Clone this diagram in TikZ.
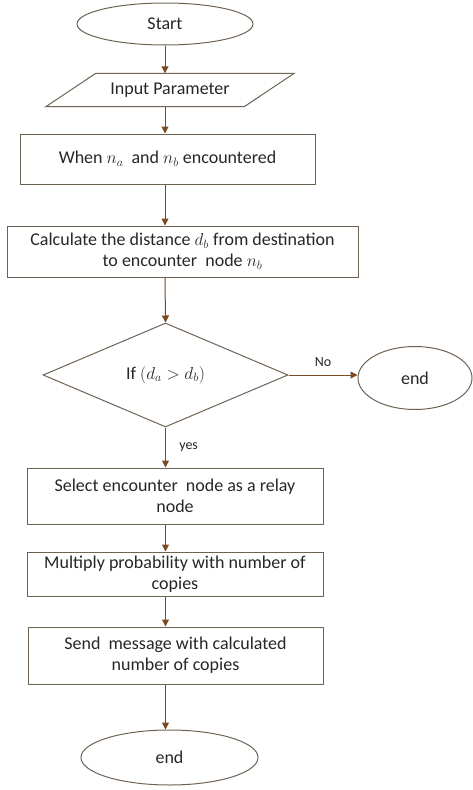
\documentclass[tikz,border=0pt]{standalone}
\usepackage{fontspec}
\setmainfont{Carlito}
\usetikzlibrary{shapes.geometric,arrows.meta}
\definecolor{boxline}{RGB}{110,98,85}
\definecolor{arrowbrown}{RGB}{122,74,34}

\begin{document}
\begin{tikzpicture}[x=1pt, y=-1pt, font=\fontsize{18}{21}\selectfont, text=black!85,
    procbox/.style={draw=boxline, line width=1pt, rectangle, align=center, inner sep=2pt},
    termnode/.style={draw=boxline, line width=1pt, ellipse, inner sep=0pt},
    flowarrow/.style={draw=arrowbrown, line width=1pt, -{Triangle[width=7pt,length=7pt]}},
    smalllbl/.style={font=\fontsize{14}{16}\selectfont}]
    \useasboundingbox (0,0) rectangle (473,790);

    % 1. Các khối của lưu đồ
    \node[termnode, minimum width=176pt, minimum height=42pt] (start) at (165,24) {Start};
    \node[rectangle, minimum width=198pt, minimum height=33pt, inner sep=0pt] (input) at (170,90) {Input Parameter};
    \draw[boxline, line width=1pt] ([xshift=-25pt]input.south west) -- ([xshift=-25pt]input.south east)
        -- ([xshift=25pt]input.north east) -- ([xshift=25pt]input.north west) -- cycle;
    \node[procbox, minimum width=295pt, minimum height=50pt] (meet) at (167.5,159) {When $n_a$\ \ and $n_b$ encountered};
    \node[procbox, minimum width=351pt, minimum height=51pt] (calc) at (182.5,251.5)
        {Calculate the distance $d_b$\ from destination\\ to encounter\ \ node $n_b$};
    \node[diamond, draw=boxline, line width=1pt, aspect=2.35, inner sep=0pt,
          minimum width=245pt, minimum height=104pt] (cond) at (165.5,375) {If $(d_a > d_b)$};
    \node[termnode, minimum width=114pt, minimum height=63pt] (endno) at (415,378) {end};
    \node[procbox, minimum width=296pt, minimum height=56pt] (relay) at (175,496)
        {Select encounter\ \ node as a relay\\ node};
    \node[procbox, minimum width=296pt, minimum height=44pt] (mult) at (175,574)
        {Multiply probability with number of\\ copies};
    \node[procbox, minimum width=295pt, minimum height=57pt] (send) at (175.5,655.5)
        {Send\ \ message with calculated\\ number of copies};
    \node[termnode, minimum width=177pt, minimum height=55pt] (stop) at (169.5,757.5) {end};

    % 2. Các mũi tên nối
    \draw[flowarrow] (start) -- (start |- input.north);
    \draw[flowarrow] (start |- input.south) -- (start |- meet.north);
    \draw[flowarrow] (start |- meet.south) -- (start |- calc.north);
    \draw[flowarrow] (start |- calc.south) -- (cond.north);
    \draw[flowarrow] (cond.east) -- node[above=5pt, smalllbl] (nolbl) {No} (cond.east -| endno.west);
    \draw[flowarrow] (cond.south) -- node[right=10pt, smalllbl] (yeslbl) {yes} (cond.south |- relay.north);
    \draw[flowarrow] (cond.south |- relay.south) -- (cond.south |- mult.north);
    \draw[flowarrow] (cond.south |- mult.south) -- (cond.south |- send.north);
    \draw[flowarrow] (cond.south |- send.south) -- (cond.south |- stop.north);

\end{tikzpicture}
\end{document}
